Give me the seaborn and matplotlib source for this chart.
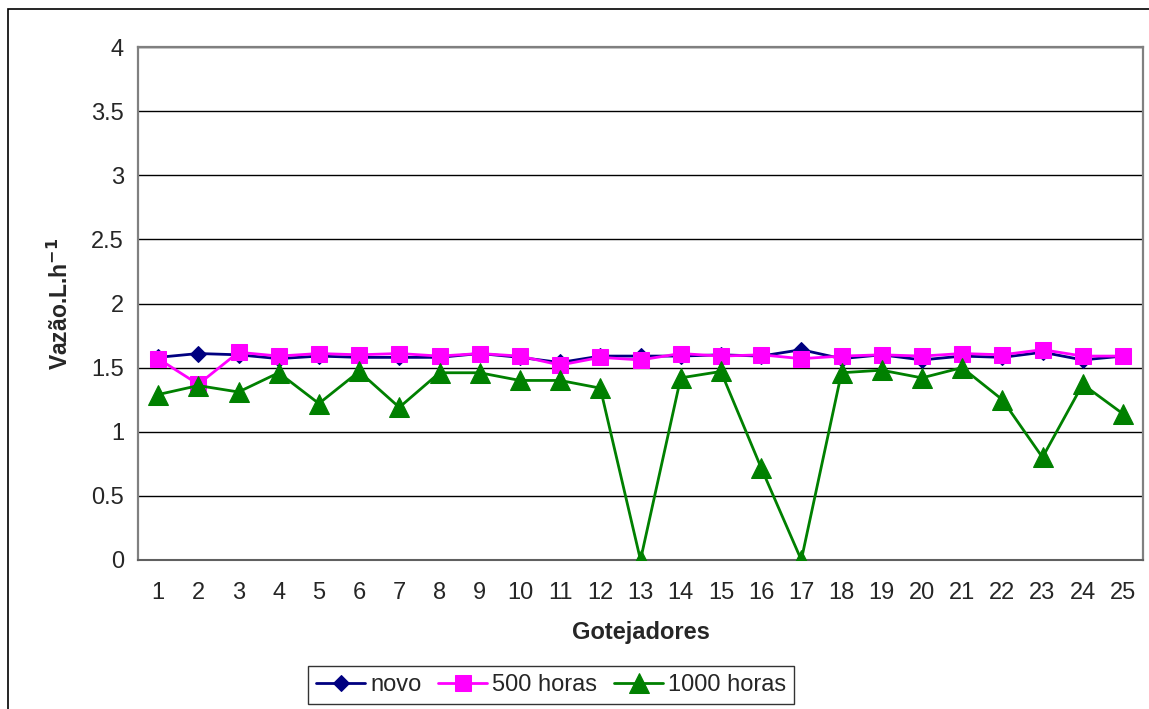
import numpy as np
import pandas as pd
import matplotlib.pyplot as plt
import seaborn as sns
from matplotlib.patches import Rectangle

gotejadores = list(range(1, 26))
novo = [1.58, 1.61, 1.60, 1.57, 1.59, 1.58, 1.58, 1.58, 1.61, 1.58,
        1.54, 1.59, 1.59, 1.59, 1.60, 1.59, 1.64, 1.57, 1.60, 1.56,
        1.59, 1.58, 1.62, 1.56, 1.59]
h500 = [1.57, 1.37, 1.62, 1.59, 1.61, 1.60, 1.61, 1.59, 1.61, 1.59,
        1.52, 1.58, 1.56, 1.61, 1.59, 1.60, 1.57, 1.59, 1.60, 1.59,
        1.61, 1.60, 1.64, 1.59, 1.59]
h1000 = [1.29, 1.36, 1.31, 1.46, 1.22, 1.47, 1.19, 1.46, 1.46, 1.40,
         1.40, 1.34, 0.0, 1.42, 1.47, 0.72, 0.0, 1.46, 1.48, 1.42,
         1.50, 1.25, 0.80, 1.37, 1.14]
series = ["novo", "500 horas", "1000 horas"]
colors = {"novo": "#000080", "500 horas": "#FF00FF", "1000 horas": "#008000"}
markers = {"novo": "D", "500 horas": "s", "1000 horas": "^"}
msize = {"novo": 8.5, "500 horas": 11, "1000 horas": 14}

df = pd.DataFrame({
    "Gotejadores": gotejadores * 3,
    "Vazao": novo + h500 + h1000,
    "serie": [s for s in series for _ in gotejadores],
})

sns.set_style("white")
plt.rcParams["font.family"] = ["Liberation Sans", "DejaVu Sans"]

fig = plt.figure(figsize=(11.49, 7.09), dpi=100)
ax = fig.add_axes([138 / 1149, 1 - 560 / 709, (1143 - 138) / 1149, (560 - 47) / 709])

for s in series:
    sub = df[df["serie"] == s]
    sns.lineplot(data=sub, x="Gotejadores", y="Vazao", ax=ax, color=colors[s],
                 marker=markers[s], markersize=msize[s], markeredgecolor=colors[s],
                 linewidth=2, label=s, zorder=3)

ax.set_xlim(0.5, 25.5)
ax.set_ylim(0, 4)
ax.set_yticks(np.arange(0, 4.01, 0.5))
ax.set_yticklabels(["0", "0.5", "1", "1.5", "2", "2.5", "3", "3.5", "4"])
ax.set_xticks(gotejadores)
ax.set_xticks(np.arange(0.5, 25.6, 1), minor=True)
ax.tick_params(axis="x", which="major", length=0, pad=16, labelsize=17)
ax.tick_params(axis="x", which="minor", length=6, width=1.2, color="#606060", direction="out")
ax.tick_params(axis="y", length=6, width=1.2, color="#606060", direction="out", labelsize=17, pad=4)
ax.yaxis.grid(True, color="black", linewidth=1)
ax.set_axisbelow(True)
for side in ["left", "top", "right"]:
    ax.spines[side].set_color("#808080")
    ax.spines[side].set_linewidth(1.6)
ax.spines["bottom"].set_color("#606060")
ax.spines["bottom"].set_linewidth(1.5)

ax.set_xlabel("Gotejadores", fontsize=17, fontweight="bold", labelpad=12)
ax.set_ylabel("Vazão.L.h$^{\\mathbf{-1}}$", fontsize=16.5, fontweight="bold", labelpad=13)

ax.get_legend().remove()
handles, labels = ax.get_legend_handles_labels()
leg = fig.legend(handles, labels, loc="upper center", ncol=3,
                 bbox_to_anchor=(551 / 1149, 1 - 654 / 709), fontsize=17,
                 frameon=True, fancybox=False, edgecolor="black",
                 handlelength=2.1, handletextpad=0.2, columnspacing=0.7,
                 borderpad=0.35)
leg.get_frame().set_linewidth(1)

fig.patches.append(Rectangle((8 / 1149, -0.1), 1.2, 1 - 9 / 709 + 0.1,
                             transform=fig.transFigure, fill=False,
                             edgecolor="black", linewidth=1.2, zorder=0))

fig.savefig("out.png", dpi=100)
